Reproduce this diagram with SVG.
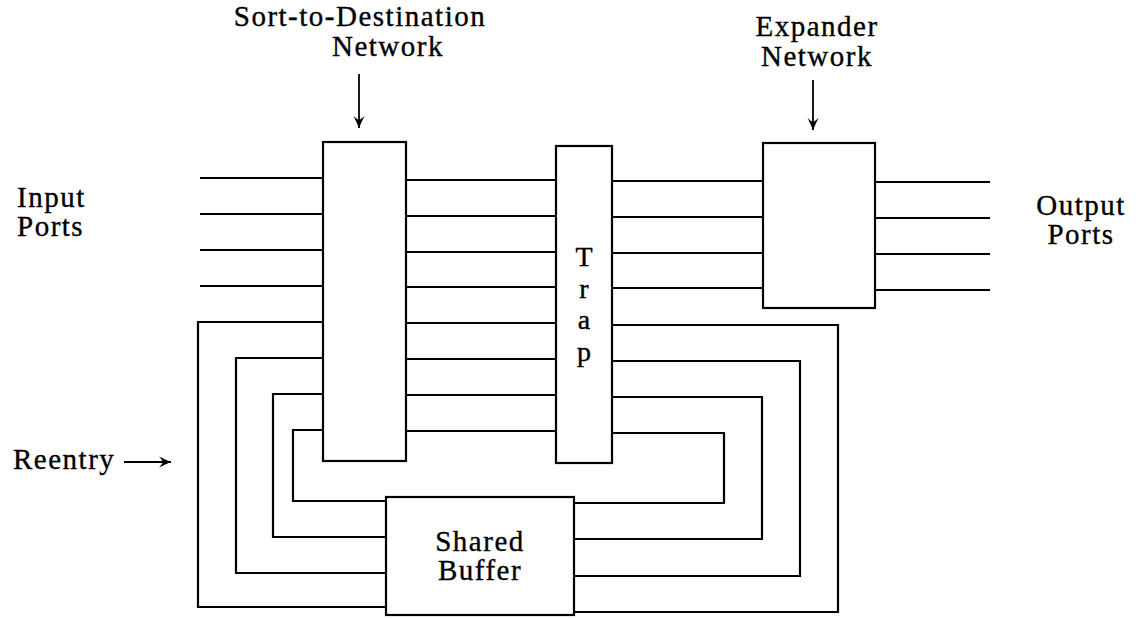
<svg xmlns="http://www.w3.org/2000/svg" width="1146" height="619" viewBox="0 0 1146 619">
<style>
.box{fill:#fff;stroke:#000;stroke-width:2.2}
.ln{fill:none;stroke:#000;stroke-width:2.2}
.t{font-family:"Liberation Serif","Times New Roman",serif;font-size:29px;letter-spacing:1.5px;fill:#000;stroke:#000;stroke-width:0.35}
.tt{font-family:"Liberation Serif","Times New Roman",serif;font-size:28px;fill:#000;stroke:#000;stroke-width:0.4}
.ar{fill:none;stroke:#000;stroke-width:1.8}
</style>
<defs>
<marker id="ah" markerWidth="16" markerHeight="16" refX="13" refY="7" orient="auto" markerUnits="userSpaceOnUse">
<path d="M1,1.5 Q8,5 13,7 Q8,9 1,12.5 Q5,8 5,7 Q5,6 1,1.5 Z" fill="#000"/>
</marker>
</defs>
<rect width="1146" height="619" fill="#fff"/>
<g id="connectors">
<path class="ln" d="M200,178 H323 M200,214 H323 M200,250 H323 M200,286 H323"/>
<path class="ln" d="M406,180 H556 M406,216 H556 M406,252 H556 M406,287 H556 M406,323 H556 M406,359 H556 M406,395 H556 M406,431 H556"/>
<path class="ln" d="M612,181 H763 M612,217 H763 M612,253 H763 M612,288 H763"/>
<path class="ln" d="M875,182 H990 M875,218 H990 M875,254 H990 M875,290 H990"/>
<path class="ln" d="M323,322 H198 V607 H386 M323,358 H236 V573 H386 M323,394 H273 V537 H386 M323,430 H293 V501 H386"/>
<path class="ln" d="M612,325 H838 V612 H574 M612,361 H800 V576 H574 M612,397 H762 V539 H574 M612,433 H724 V503 H574"/>
<line class="ar" x1="359" y1="74" x2="359" y2="128" marker-end="url(#ah)"/>
<line class="ar" x1="813" y1="80" x2="813" y2="130" marker-end="url(#ah)"/>
<line class="ar" x1="124" y1="462" x2="171" y2="462" stroke-width="2.6" marker-end="url(#ah)"/>
</g>
<g id="sort">
<rect class="box" x="323" y="142" width="83" height="319"/>
<text class="t" x="360" y="26" text-anchor="middle">Sort-to-Destination</text>
<text class="t" x="332" y="56">Network</text>
</g>
<g id="trap">
<rect class="box" x="556" y="146" width="56" height="317"/>
<text class="tt" x="584" y="266" text-anchor="middle">T</text>
<text class="tt" x="584" y="297.5" text-anchor="middle">r</text>
<text class="tt" x="584" y="329" text-anchor="middle">a</text>
<text class="tt" x="584" y="360.5" text-anchor="middle">p</text>
</g>
<g id="expander">
<rect class="box" x="763" y="143" width="112" height="165"/>
<text class="t" x="817" y="36" text-anchor="middle">Expander</text>
<text class="t" x="817" y="66" text-anchor="middle">Network</text>
</g>
<g id="buffer">
<rect class="box" x="386" y="497" width="188" height="118"/>
<text class="t" x="480" y="551" text-anchor="middle">Shared</text>
<text class="t" x="480" y="580" text-anchor="middle">Buffer</text>
</g>
<g id="labels">
<text class="t" x="17" y="207">Input</text>
<text class="t" x="17" y="236">Ports</text>
<text class="t" x="1081" y="215" text-anchor="middle">Output</text>
<text class="t" x="1081" y="244" text-anchor="middle">Ports</text>
<text class="t" x="13" y="469">Reentry</text>
</g>
</svg>
